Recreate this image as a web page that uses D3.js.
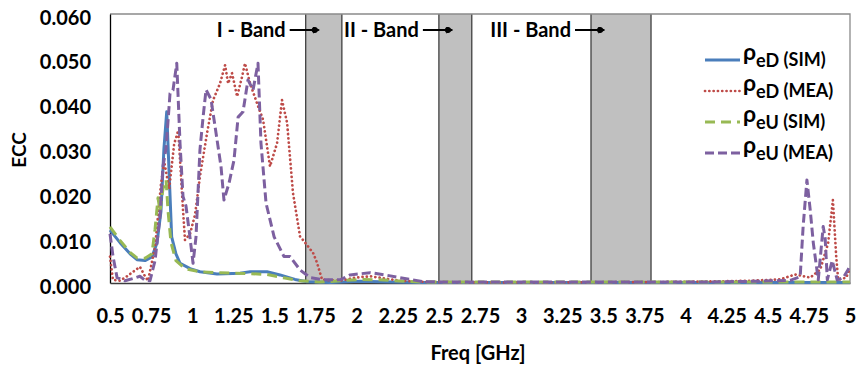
<!DOCTYPE html>
<html>
<head>
<meta charset="utf-8">
<script src="https://cdn.jsdelivr.net/npm/d3@7"></script>
<style>
body { margin:0; background:#fff; }
svg text { font-family: Lato, "Open Sans", sans-serif; font-weight: bold; fill: #000; }
</style>
</head>
<body>
<div id="chart"></div>
<script>

// x ticks (GHz) and y ticks (ECC)
var freqTicks = [0.5, 0.75, 1, 1.25, 1.5, 1.75, 2, 2.25, 2.5, 2.75, 3, 3.25, 3.5, 3.75, 4, 4.25, 4.5, 4.75, 5];
var eccTicks = [0, 0.01, 0.02, 0.03, 0.04, 0.05, 0.06];

// shaded bands
var bandStart = [1.69, 2.5, 3.425];
var bandEnd = [1.91, 2.7, 3.79];
var bandLabels = ["I - Band", "II - Band", "III - Band"];

// legend
var seriesSub = ["eD", "eD", "eU", "eU"];
var seriesTag = [" (SIM)", " (MEA)", " (SIM)", " (MEA)"];

// [freq, ecc]
var eDSim = [[0.5,0.0118],[0.561,0.009],[0.622,0.0065],[0.664,0.0052],[0.713,0.005],[0.755,0.0058],[0.786,0.009],
	[0.81,0.016],[0.828,0.03],[0.845,0.0382],[0.859,0.025],[0.875,0.0103],[0.901,0.0065],[0.926,0.0044],[0.987,0.0032],
	[1.047,0.0025],[1.151,0.002],[1.291,0.0022],[1.352,0.0025],[1.455,0.0025],[1.534,0.0018],[1.625,0.0008],[1.698,0.0003],
	[1.838,0.0001],[2.02,0.0004],[2.14,0.0003],[2.39,0.0001],[5,0.0001]];

var eDMea = [[0.5,0.0059],[0.518,0.0007],[0.561,0.0005],[0.603,0.0015],[0.682,0.0036],[0.713,0.0015],[0.731,0.0005],
	[0.774,0.008],[0.81,0.022],[0.83,0.027],[0.86,0.021],[0.89,0.031],[0.915,0.034],[0.93,0.025],[0.944,0.0163],[0.956,0.0096],
	[0.987,0.011],[1.017,0.0152],[1.047,0.0237],[1.09,0.0334],[1.127,0.0408],[1.169,0.0445],[1.2,0.0486],[1.218,0.0445],
	[1.242,0.0468],[1.273,0.0416],[1.303,0.046],[1.321,0.049],[1.352,0.0445],[1.394,0.0401],[1.431,0.0364],[1.473,0.026],
	[1.516,0.0312],[1.546,0.0408],[1.577,0.0357],[1.613,0.02],[1.656,0.0103],[1.674,0.0096],[1.735,0.0067],[1.759,0.0045],
	[1.79,0.0007],[1.899,0.0005],[1.99,0.0012],[2.082,0.0015],[2.173,0.001],[2.264,0.0005],[2.446,0.0002],[2.9,0.0001],
	[3.8,0.0002],[4.089,0.0003],[4.393,0.0005],[4.575,0.0008],[4.666,0.0019],[4.758,0.0012],[4.819,0.003],[4.867,0.0089],
	[4.896,0.0185],[4.916,0.006],[4.928,0.0007],[4.977,0.0012],[5,0.0033]];

var eUSim = [[0.5,0.0125],[0.561,0.0095],[0.622,0.0068],[0.664,0.0056],[0.713,0.0055],[0.755,0.0065],[0.774,0.012],
	[0.792,0.019],[0.804,0.016],[0.822,0.021],[0.841,0.023],[0.853,0.016],[0.871,0.009],[0.901,0.005],[0.956,0.0032],
	[1.047,0.0025],[1.169,0.0023],[1.352,0.0021],[1.455,0.0019],[1.564,0.0011],[1.656,0.0005],[1.777,0.0002],[2.02,0.0008],
	[2.14,0.0007],[2.39,0.0002],[5,0.0002]];

var eUMea = [[0.5,0.011],[0.518,0.006],[0.543,0.0012],[0.591,0.0005],[0.64,0.001],[0.682,0.0015],[0.713,0.0006],[0.743,0.0005],
	[0.774,0.005],[0.804,0.015],[0.822,0.026],[0.841,0.03],[0.865,0.0423],[0.883,0.043],[0.906,0.049],[0.926,0.031],[0.944,0.0193],
	[0.962,0.0172],[0.987,0.01],[1.005,0.0044],[1.023,0.0103],[1.047,0.0297],[1.066,0.037],[1.084,0.0431],[1.114,0.041],
	[1.145,0.0334],[1.175,0.026],[1.193,0.0185],[1.224,0.0223],[1.254,0.0274],[1.279,0.037],[1.309,0.0382],[1.339,0.0453],
	[1.37,0.0431],[1.4,0.049],[1.418,0.0312],[1.449,0.0178],[1.498,0.0103],[1.558,0.0059],[1.595,0.0059],[1.656,0.0029],
	[1.717,0.0012],[1.796,0.0007],[1.899,0.0007],[1.96,0.0018],[2.082,0.0023],[2.173,0.0018],[2.264,0.0012],[2.404,0.0003],
	[2.568,0.0002],[3.48,0.0002],[4.089,0.0002],[4.454,0.0004],[4.636,0.0006],[4.697,0.0014],[4.715,0.0126],[4.738,0.023],
	[4.758,0.0163],[4.777,0.0089],[4.807,0.0007],[4.837,0.0126],[4.849,0.01],[4.862,0.0007],[4.892,0.005],[4.922,0.0007],
	[4.959,0.0012],[4.989,0.003],[5,0.004]];


var ECC = (function(ECC, undefined)
{

	ECC.x = d3.scaleLinear().domain([0.5, 5]).range([110, 850]);
	ECC.y = d3.scaleLinear().domain([0, 0.06]).range([283, 14]);

	ECC.styles = [
		{"stroke":"#4a7ebb", "width":3, "dash":null, "cap":"butt"},
		{"stroke":"#be4b48", "width":2.7, "dash":"0.1,4.2", "cap":"round"},
		{"stroke":"#98b954", "width":3, "dash":"10,6", "cap":"butt"},
		{"stroke":"#7d60a0", "width":3, "dash":"9,4", "cap":"butt"}
	];


	ECC.init = function()
	{
		var svg = d3.select("#chart").append("svg")
		.attr("width", 858)
		.attr("height", 365)
		.style("background", "#fff");

		ECC.drawBands(svg);
		ECC.drawAxes(svg);
		ECC.drawLines(svg, [eDSim, eDMea, eUSim, eUMea]);
		ECC.drawLegend(svg);
	}


	ECC.drawBands = function(svg)
	{
		var x = ECC.x, y = ECC.y;
		var g = svg.append("g")
		.attr("class", "bands");

		g.selectAll("rect")
		.data(bandStart)
		.join("rect")
		.attr("x", function(d) { return x(d) })
		.attr("width", function(d, i) { return x(bandEnd[i]) - x(d) })
		.attr("y", y(0.06))
		.attr("height", y(0) - y(0.06))
		.attr("fill", "#c0c0c0");

		var edges = bandStart.concat(bandEnd);

		g.selectAll("line")
		.data(edges)
		.join("line")
		.attr("x1", function(d) { return x(d) })
		.attr("x2", function(d) { return x(d) })
		.attr("y1", y(0.06))
		.attr("y2", y(0))
		.attr("stroke", "#404040")
		.attr("stroke-width", 1.3);

		// frame top + right
		svg.append("path")
		.attr("d", "M" + x(0.5) + "," + y(0.06) + "H" + x(5) + "V" + y(0))
		.attr("fill", "none")
		.attr("stroke", "#8a8a8a")
		.attr("stroke-width", 1.3);

		// labels with arrows
		var defs = svg.append("defs");
		defs.append("marker")
		.attr("id", "tip")
		.attr("viewBox", "0 -5 10 10")
		.attr("refX", 8)
		.attr("refY", 0)
		.attr("markerWidth", 7)
		.attr("markerHeight", 7)
		.attr("markerUnits", "userSpaceOnUse")
		.attr("orient", "auto")
		.append("path")
		.attr("d", "M0,-5L10,0L0,5Z")
		.attr("fill", "#000");

		var lab = svg.append("g")
		.attr("class", "bandLabels");

		lab.selectAll("text")
		.data(bandStart)
		.join("text")
		.attr("x", function(d) { return x(d) - 20 })
		.attr("y", 37)
		.attr("text-anchor", "end")
		.attr("font-size", 20)
		.text(function(d, i) { return bandLabels[i] });

		lab.selectAll("line")
		.data(bandStart)
		.join("line")
		.attr("x1", function(d) { return x(d) - 16 })
		.attr("x2", function(d) { return x(d) + 13 })
		.attr("y1", 30)
		.attr("y2", 30)
		.attr("stroke", "#000")
		.attr("stroke-width", 2)
		.attr("marker-end", "url(#tip)");

		lab.selectAll("circle")
		.data(bandStart)
		.join("circle")
		.attr("cx", function(d) { return x(d) + 9 })
		.attr("cy", 30)
		.attr("r", 3)
		.attr("fill", "#000");
	}


	ECC.drawAxes = function(svg)
	{
		var x = ECC.x, y = ECC.y;

		var yAxis = svg.append("g")
		.attr("class", "yAxis")
		.attr("transform", "translate(" + x(0.5) + ",0)")
		.call(d3.axisLeft(y)
			.tickValues(eccTicks)
			.tickFormat(d3.format(".3f"))
			.tickSize(0)
			.tickPadding(19));

		yAxis.select(".domain")
		.attr("stroke", "#000")
		.attr("stroke-width", 1.3);

		yAxis.selectAll("text")
		.attr("font-size", 20)
		.attr("font-family", null)
		.attr("dy", "0.5em");

		var xAxis = svg.append("g")
		.attr("class", "xAxis")
		.attr("transform", "translate(0," + y(0) + ")")
		.call(d3.axisBottom(x)
			.tickValues(freqTicks)
			.tickFormat(function(d) { return String(d) })
			.tickSize(0)
			.tickPadding(26));

		xAxis.select(".domain")
		.attr("stroke", "#3c3c3c")
		.attr("stroke-width", 1.6);

		xAxis.selectAll("text")
		.attr("font-size", 20)
		.attr("font-family", null);

		svg.append("text")
		.attr("transform", "translate(26,150) rotate(-90)")
		.attr("text-anchor", "middle")
		.attr("font-size", 19)
		.text("ECC");

		svg.append("text")
		.attr("x", 478)
		.attr("y", 360)
		.attr("text-anchor", "middle")
		.attr("font-size", 20)
		.text("Freq [GHz]");
	}


	ECC.drawLines = function(svg, series)
	{
		var x = ECC.x, y = ECC.y;
		var line = d3.line()
		.x(function(d) { return x(d[0]) })
		.y(function(d) { return y(d[1]) });

		svg.append("g")
		.attr("class", "seriesLines")
		.selectAll("path")
		.data(series)
		.join("path")
		.attr("d", line)
		.attr("fill", "none")
		.attr("stroke", function(d, i) { return ECC.styles[i].stroke })
		.attr("stroke-width", function(d, i) { return ECC.styles[i].width })
		.attr("stroke-dasharray", function(d, i) { return ECC.styles[i].dash })
		.attr("stroke-linecap", function(d, i) { return ECC.styles[i].cap })
		.attr("stroke-linejoin", "round");
	}


	ECC.drawLegend = function(svg)
	{
		var rows = svg.append("g")
		.attr("class", "legend")
		.selectAll("g")
		.data(seriesSub)
		.join("g")
		.attr("transform", function(d, i) { return "translate(705," + (60 + i * 31) + ")" });

		rows.append("line")
		.attr("x1", 0)
		.attr("x2", 35)
		.attr("stroke", function(d, i) { return ECC.styles[i].stroke })
		.attr("stroke-width", function(d, i) { return ECC.styles[i].width })
		.attr("stroke-dasharray", function(d, i) { return ECC.styles[i].dash })
		.attr("stroke-linecap", function(d, i) { return ECC.styles[i].cap });

		var t = rows.append("text")
		.attr("x", 38)
		.attr("y", 0);

		t.append("tspan")
		.attr("font-size", 23)
		.text("ρ");

		t.append("tspan")
		.attr("font-size", 18)
		.attr("dy", 7)
		.text(function(d) { return d });

		t.append("tspan")
		.attr("font-size", 18)
		.attr("dy", -1)
		.text(function(d, i) { return seriesTag[i] });
	}


	return ECC;

}(ECC || {}));


ECC.init();

</script>
</body>
</html>
